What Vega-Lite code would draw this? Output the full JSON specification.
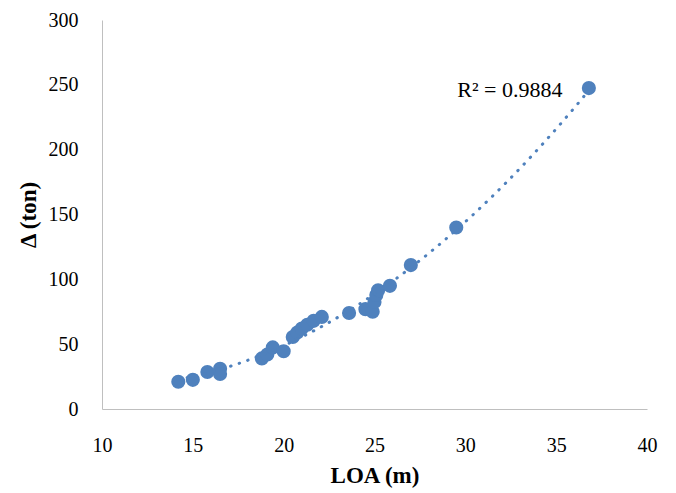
{
  "$schema": "https://vega.github.io/schema/vega-lite/v6.json",
  "width": 545,
  "height": 389,
  "autosize": "none",
  "padding": {"left": 102, "top": 20, "right": 29, "bottom": 84},
  "background": "white",
  "config": {
    "view": {"stroke": null},
    "font": "Liberation Serif"
  },
  "layer": [
    {
      "data": {
        "values": [
          {"LOA": 14.2, "D": 21},
          {"LOA": 15.0, "D": 22.5},
          {"LOA": 15.8, "D": 28.5},
          {"LOA": 16.5, "D": 31},
          {"LOA": 16.5, "D": 27},
          {"LOA": 18.8, "D": 39},
          {"LOA": 19.1, "D": 42},
          {"LOA": 19.4, "D": 47.5},
          {"LOA": 20.0, "D": 44.5},
          {"LOA": 20.5, "D": 55.5},
          {"LOA": 20.75, "D": 59},
          {"LOA": 21.0, "D": 62},
          {"LOA": 21.3, "D": 65},
          {"LOA": 21.65, "D": 68},
          {"LOA": 22.1, "D": 71},
          {"LOA": 23.6, "D": 74},
          {"LOA": 24.5, "D": 77},
          {"LOA": 24.9, "D": 75},
          {"LOA": 25.0, "D": 82.5},
          {"LOA": 25.1, "D": 88},
          {"LOA": 25.2, "D": 91.5},
          {"LOA": 25.85, "D": 95},
          {"LOA": 27.0, "D": 111},
          {"LOA": 29.5, "D": 140},
          {"LOA": 36.8, "D": 247.5}
        ]
      },
      "layer": [
        {
          "mark": {"type": "circle", "size": 200, "opacity": 1, "color": "#4f81bd"},
          "encoding": {
            "x": {
              "field": "LOA", "type": "quantitative",
              "scale": {"domain": [10, 40], "nice": false, "zero": false},
              "axis": {
                "title": "LOA (m)",
                "values": [10, 15, 20, 25, 30, 35, 40],
                "grid": false, "ticks": false, "tickSize": 0,
                "domainColor": "#bfbfbf", "domainWidth": 1,
                "labelFont": "Liberation Serif", "labelFontSize": 20, "labelColor": "#000000",
                "labelBaseline": "middle", "labelPadding": 36, "labelAlign": "center",
                "labelOverlap": false, "labelFlush": false,
                "titleFont": "Liberation Serif", "titleFontSize": 23, "titleFontWeight": "bold", "titleColor": "#000000",
                "titleX": 272.5, "titleY": 66, "titleBaseline": "middle", "titleAlign": "center"
              }
            },
            "y": {
              "field": "D", "type": "quantitative",
              "scale": {"domain": [0, 300], "nice": false},
              "axis": {
                "title": "Δ (ton)",
                "values": [0, 50, 100, 150, 200, 250, 300],
                "grid": false, "ticks": false, "tickSize": 0,
                "domainColor": "#bfbfbf", "domainWidth": 1,
                "labelFont": "Liberation Serif", "labelFontSize": 20, "labelColor": "#000000",
                "labelBaseline": "middle", "labelPadding": 24, "labelAlign": "right",
                "labelOverlap": false, "labelFlush": false,
                "titleFont": "Liberation Serif", "titleFontSize": 23, "titleFontWeight": "bold", "titleColor": "#000000",
                "titleX": -74, "titleY": 194.5, "titleBaseline": "middle", "titleAlign": "center", "titleAngle": -90
              }
            }
          }
        },
        {
          "transform": [
            {"regression": "D", "on": "LOA", "method": "poly", "order": 2}
          ],
          "mark": {"type": "line", "color": "#4f81bd", "strokeWidth": 3, "strokeCap": "round", "strokeDash": [0.5, 8.5]},
          "encoding": {
            "x": {"field": "LOA", "type": "quantitative"},
            "y": {"field": "D", "type": "quantitative"}
          }
        }
      ]
    },
    {
      "data": {"values": [{"label": "R² = 0.9884", "LOA": 32.45, "D": 246}]},
      "mark": {"type": "text", "font": "Liberation Serif", "fontSize": 22, "color": "#000000", "align": "center", "baseline": "middle"},
      "encoding": {
        "x": {"field": "LOA", "type": "quantitative"},
        "y": {"field": "D", "type": "quantitative"},
        "text": {"field": "label"}
      }
    }
  ]
}
